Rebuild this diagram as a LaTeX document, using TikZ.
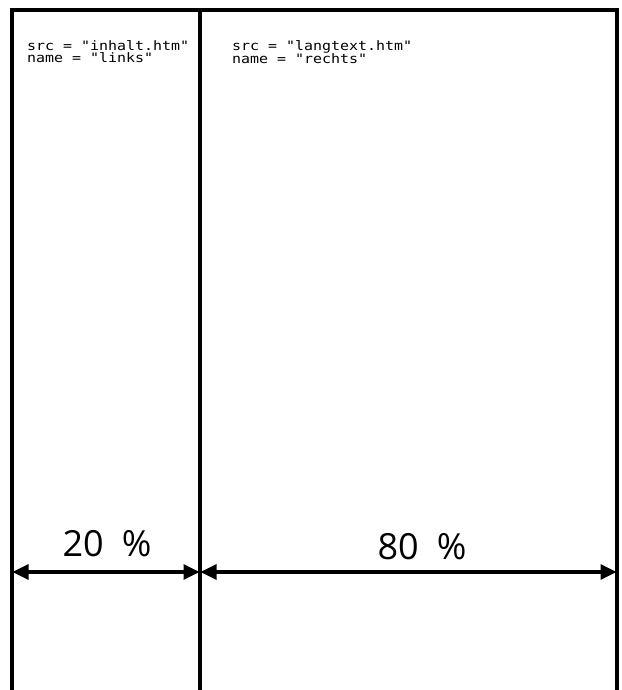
\documentclass[tikz,border=0pt]{standalone}
\usepackage{fontspec}
\setmainfont{Open Sans}
\newfontfamily\monof[FakeStretch=1.15]{DejaVu Sans Mono}
\usetikzlibrary{arrows.meta}
\tikzset{
  frameline/.style={line width=3.2pt, black},
  dimarrow/.style={line width=3.2pt, {Triangle[length=16pt,width=15pt]}-{Triangle[length=16pt,width=15pt]}, shorten <=-1pt, shorten >=-1pt},
  codetext/.style={anchor=north west, font=\monof\fontsize{13}{12.5}\selectfont, align=left, inner sep=0pt},
  pcttext/.style={anchor=base, font=\fontsize{36}{36}\selectfont, inner sep=0pt}
}
\begin{document}
\begin{tikzpicture}[x=1pt,y=-1pt]
\useasboundingbox[fill=white] (0,0) rectangle (621,690);
\coordinate (tl) at (12,10);
\coordinate (tm) at (200,10);
\coordinate (tr) at (617,10);
\coordinate (bl) at (12,690);
\coordinate (bm) at (200,690);
\coordinate (br) at (617,690);
\draw[frameline] (bl) -- (tl) -- (tr) -- (br);
\draw[frameline] (tm) -- (bm);
\coordinate (al) at (12,572);
\coordinate (am) at (200,572);
\coordinate (ar) at (617,572);
\draw[dimarrow] ([xshift=1.5pt]al) -- ([xshift=-1.5pt]am);
\draw[dimarrow] ([xshift=1.5pt]am) -- ([xshift=-1.5pt]ar);
\node[codetext] (c1) at (27,40) {src = "inhalt.htm"\\name = "links"};
\node[codetext] (c2) at (232,40) {src = "langtext.htm"\\name = "rechts"};
\node[pcttext] (p1) at (107,556) {20\,\,\,\%};
\node[pcttext] (p2) at (422,559) {80\,\,\,\%};
\end{tikzpicture}
\end{document}
